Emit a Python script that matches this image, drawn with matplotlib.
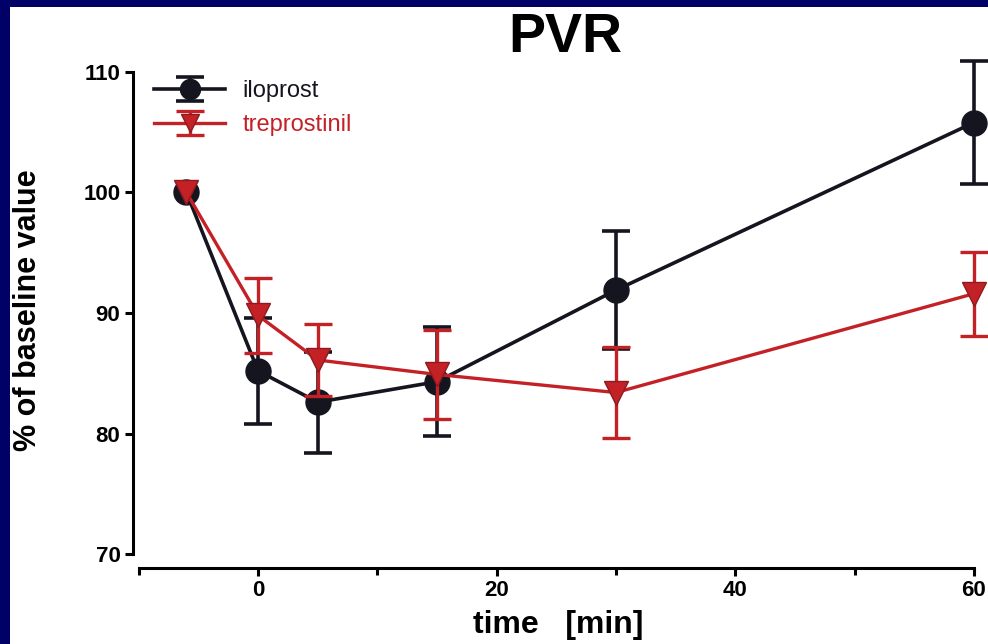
import numpy as np
import matplotlib
matplotlib.use("Agg")
import matplotlib.pyplot as plt
from matplotlib.patches import Rectangle

plt.rcParams["font.family"] = ["Liberation Sans", "DejaVu Sans"]

# PVR as % of baseline, mean +/- SEM
time_min = [-6, 0, 5, 15, 30, 60]
iloprost = [100, 85.2, 82.6, 84.3, 91.9, 105.8]
iloprost_err = [np.nan, 4.4, 4.2, 4.5, 4.9, 5.1]
treprostinil = [100, 89.8, 86.1, 84.9, 83.4, 91.6]
treprostinil_err = [np.nan, 3.1, 3.0, 3.7, 3.8, 3.5]

y_ticks = [70, 80, 90, 100, 110]
x_ticks = [0, 20, 40, 60]
x_minor = [-10, 10, 30, 50]

navy = "#000066"
black = "#15151f"
red = "#c42127"

fig = plt.figure(figsize=(9.88, 6.44), dpi=100, facecolor=navy)
fig.patches.append(Rectangle((10 / 988, 0), 1, 637 / 644, transform=fig.transFigure,
                             facecolor="white", edgecolor="none", zorder=-10))

ax = fig.add_axes([133 / 988, 76 / 644, 855 / 988, 513 / 644])
ax.set_facecolor("none")

ilo = ax.errorbar(time_min, iloprost, yerr=iloprost_err, color=black, lw=2.6,
                  marker="o", ms=18, mfc=black, mec=black, ecolor=black,
                  elinewidth=2.6, capsize=10, capthick=2.6, label="iloprost", zorder=3)
tre = ax.errorbar(time_min, treprostinil, yerr=treprostinil_err, color=red, lw=2.4,
                  marker="v", ms=17, mfc=red, mec="#8c1a1e", ecolor=red,
                  elinewidth=2.4, capsize=10, capthick=2.4, label="treprostinil", zorder=4)

ax.set_xlim(-10.48, 61.19)
ax.set_ylim(68.84, 111.41)

for side in ("top", "right"):
    ax.spines[side].set_visible(False)
ax.spines["left"].set_bounds(70, 110)
ax.spines["bottom"].set_bounds(-10, 60)
ax.spines["left"].set_linewidth(2.2)
ax.spines["bottom"].set_linewidth(2.2)

ax.set_yticks(y_ticks)
ax.set_xticks(x_ticks)
ax.set_xticks(x_minor, minor=True)
ax.tick_params(axis="both", which="major", length=6, width=2.2, direction="out",
               labelsize=16, pad=3)
ax.tick_params(axis="x", which="minor", length=5, width=2.2, direction="out")
for lab in ax.get_xticklabels() + ax.get_yticklabels():
    lab.set_fontweight("bold")

leg = ax.legend(handles=[ilo, tre], loc="upper left", bbox_to_anchor=(133 / 988, 585 / 644),
                bbox_transform=fig.transFigure, frameon=False, fontsize=17,
                handlelength=3.0, handletextpad=0.75, labelspacing=0.5, markerscale=0.8)
leg.get_texts()[0].set_color(black)
leg.get_texts()[1].set_color(red)

fig.text(565 / 988, 606 / 644, "PVR", ha="center", va="center",
         fontsize=40, fontweight="bold")
fig.text(28 / 988, 334 / 644, "% of baseline value", rotation=90, ha="center",
         va="center", fontsize=22, fontweight="bold")
fig.text(558 / 988, 19 / 644, "time   [min]", ha="center", va="center",
         fontsize=23, fontweight="bold")

fig.savefig("out.png", dpi=100, facecolor=navy)
